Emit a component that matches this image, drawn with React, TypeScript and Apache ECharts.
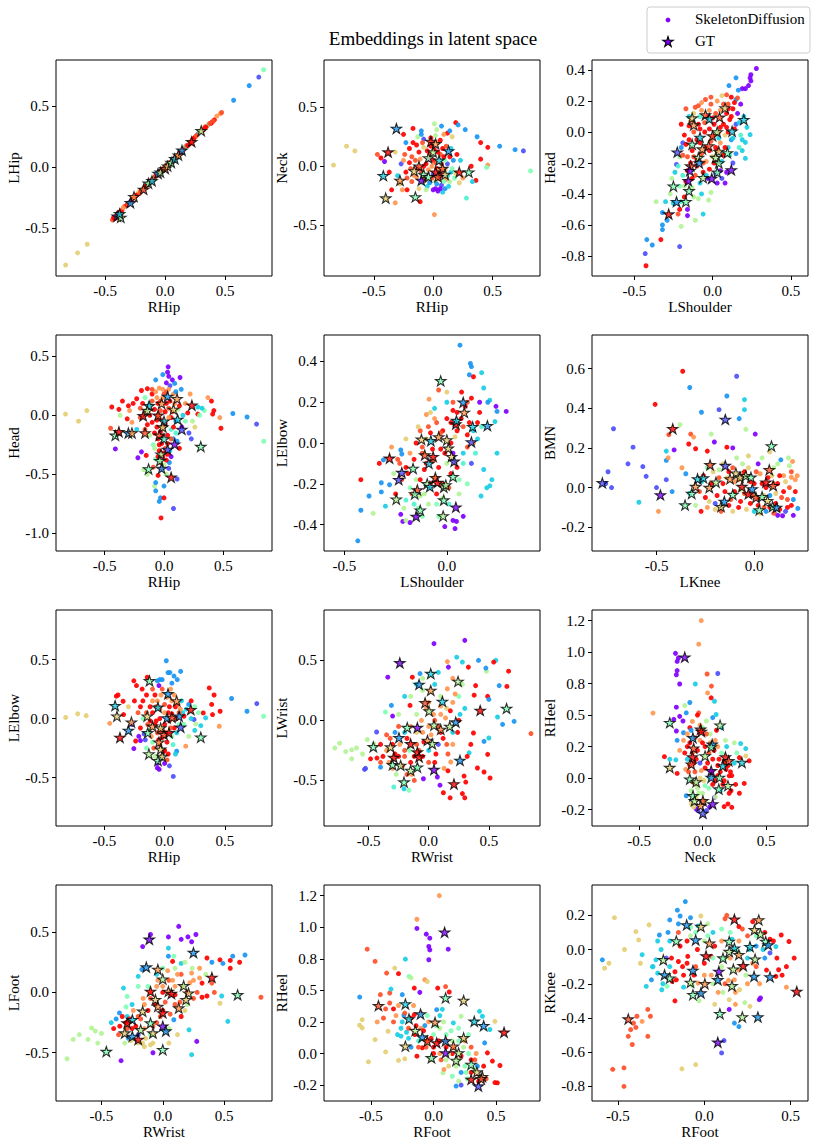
import React, { useEffect, useRef } from 'react';
import * as echarts from 'echarts';

type Pt = number[];

// [x, y, colourIndex 0..10 on the rainbow colormap]
const p1Dots: Pt[] = [[-0.83,-0.80,7],[-0.73,-0.70,7],[-0.65,-0.63,7],[-0.44,-0.43,9],[-0.42,-0.42,10],[-0.40,-0.39,9],[-0.38,-0.37,10],[-0.36,-0.35,10],[-0.34,-0.32,9],[-0.32,-0.31,10],[-0.30,-0.29,10],[-0.29,-0.28,2],[-0.27,-0.25,8],[-0.25,-0.24,10],[-0.23,-0.22,9],[-0.22,-0.20,7],[-0.20,-0.19,10],[-0.19,-0.18,3],[-0.17,-0.16,10],[-0.15,-0.15,8],[-0.14,-0.13,5],[-0.13,-0.12,9],[-0.11,-0.10,10],[-0.10,-0.09,5],[-0.09,-0.09,8],[-0.08,-0.07,10],[-0.06,-0.06,9],[-0.05,-0.04,1],[-0.04,-0.04,7],[-0.03,-0.03,10],[-0.02,-0.01,9],[-0.01,-0.02,3],[0.0,0.0,10],[0.01,0.01,3],[0.02,0.02,8],[0.03,0.03,9],[0.04,0.03,6],[0.05,0.04,10],[0.06,0.06,8],[0.07,0.07,2],[0.08,0.08,10],[0.10,0.10,2],[0.11,0.10,9],[0.12,0.12,9],[0.14,0.13,10],[0.16,0.16,8],[0.17,0.17,4],[0.18,0.18,9],[0.20,0.19,7],[0.21,0.20,10],[0.23,0.23,9],[0.25,0.25,8],[0.27,0.27,10],[0.28,0.28,3],[0.31,0.30,10],[0.33,0.33,9],[0.35,0.34,8],[0.36,0.35,5],[0.38,0.36,10],[0.39,0.37,10],[0.41,0.39,10],[0.40,0.38,9],[0.46,0.44,8],[0.47,0.45,9],[0.57,0.55,2],[0.70,0.67,2],[0.78,0.74,1],[0.82,0.80,5],[-0.43,-0.41,10],[-0.41,-0.40,9],[-0.39,-0.37,10],[-0.35,-0.33,8],[-0.31,-0.30,9],[-0.28,-0.27,10],[-0.24,-0.23,10],[-0.21,-0.21,9],[-0.18,-0.17,8],[-0.16,-0.15,10],[-0.12,-0.11,10],[-0.07,-0.07,9],[-0.04,-0.03,10],[0.0,0.01,8],[0.02,0.01,10],[0.04,0.04,9],[0.09,0.09,8],[0.13,0.12,10],[0.15,0.15,9],[0.19,0.18,10],[0.22,0.22,8],[0.24,0.24,10],[0.26,0.26,9],[0.29,0.29,8],[0.32,0.31,10],[0.34,0.33,10],[0.37,0.36,9],[0.43,0.42,8]];
const p1Stars: Pt[] = [[-0.40,-0.40,1],[-0.37,-0.41,6],[-0.38,-0.38,3],[-0.29,-0.29,2],[-0.26,-0.24,8],[-0.18,-0.18,9],[-0.14,-0.13,5],[-0.11,-0.11,3],[-0.06,-0.05,2],[-0.04,-0.04,6],[0.0,-0.01,9],[0.02,0.01,7],[0.05,0.04,5],[0.08,0.07,3],[0.11,0.10,8],[0.14,0.14,2],[0.22,0.21,10],[0.30,0.30,6]];

const p2Dots: Pt[] = [[-0.84,0.01,7],[-0.73,0.17,7],[-0.66,0.13,7],[-0.47,0.10,9],[-0.44,0.07,10],[-0.32,0.12,7],[-0.41,0.04,0],[-0.25,0.27,10],[-0.23,0.20,2],[-0.17,0.32,10],[-0.17,0.20,10],[-0.10,0.30,2],[-0.13,0.25,6],[-0.08,0.23,1],[0.01,0.36,6],[0.07,0.34,2],[0.19,0.37,10],[0.21,0.35,2],[0.27,0.31,2],[0.12,0.28,10],[0.16,0.25,7],[0.09,0.27,8],[0.37,0.25,2],[0.40,0.20,10],[0.46,0.16,10],[0.40,0.06,10],[0.56,0.17,2],[0.69,0.14,2],[0.76,0.13,1],[0.82,-0.04,5],[0.46,0.01,8],[0.45,-0.01,5],[0.32,0.0,10],[0.36,-0.12,10],[0.33,-0.13,3],[0.28,-0.27,4],[0.25,-0.10,8],[0.22,-0.14,7],[0.18,-0.10,5],[-0.35,-0.20,10],[-0.26,-0.20,8],[-0.22,-0.20,10],[-0.32,-0.31,8],[-0.11,-0.30,10],[0.01,-0.41,8],[-0.37,-0.05,10],[-0.30,-0.08,3],[-0.23,-0.05,10],[-0.20,0.03,10],[-0.27,0.02,1],[0.0,-0.20,0],[0.04,-0.21,0],[0.10,-0.19,2],[0.13,-0.17,3],[0.07,-0.16,1],[-0.05,-0.17,3],[-0.09,-0.14,5],[0.15,-0.05,3],[0.12,0.02,1],[0.17,0.05,2],[0.20,0.10,10],[-0.12,0.12,10],[-0.15,0.05,9],[-0.10,-0.04,9],[-0.06,0.02,10],[-0.03,0.10,9],[0.0,0.05,10],[0.03,-0.02,10],[0.06,0.10,9],[0.08,0.15,10],[-0.02,0.17,10],[0.04,0.20,8],[-0.07,-0.09,10],[0.05,-0.10,9],[-0.14,-0.09,8],[0.10,0.05,5],[-0.18,-0.13,9],[0.11,-0.11,8],[-0.04,0.06,0],[0.0,-0.07,1],[-0.19,-0.02,9],[-0.08,0.16,7],[0.02,0.26,6],[-0.01,0.0,8],[0.07,0.02,9],[0.14,-0.13,6],[-0.12,-0.19,7],[0.08,-0.22,3],[0.02,-0.13,6],[-0.24,0.10,9],[-0.20,0.15,10],[-0.18,0.08,9],[-0.16,-0.08,8],[-0.14,0.18,10],[-0.13,-0.02,10],[-0.11,0.06,8],[-0.09,0.20,9],[-0.08,0.0,10],[-0.07,-0.12,9],[-0.05,0.13,10],[-0.04,-0.03,8],[-0.02,0.24,10],[-0.01,-0.10,9],[0.01,0.14,10],[0.02,0.03,9],[0.03,-0.15,2],[0.04,0.12,10],[0.05,-0.03,8],[0.06,0.22,10],[0.07,-0.07,10],[0.09,0.08,10],[0.10,-0.03,7],[0.11,0.17,9],[0.12,-0.08,3],[0.14,0.08,10],[0.15,0.15,3],[0.16,-0.02,5],[-0.06,-0.20,6],[0.02,-0.19,0],[0.06,-0.19,0],[-0.03,-0.14,2],[0.09,-0.13,5],[-0.22,-0.10,9],[-0.25,0.05,8],[0.19,-0.06,7],[0.23,0.05,3],[-0.10,0.27,2],[0.03,0.31,6],[0.14,0.30,2],[-0.28,-0.15,7]];
const p2Stars: Pt[] = [[-0.31,0.32,2],[-0.38,0.12,10],[-0.42,-0.08,3],[-0.28,-0.12,8],[-0.40,-0.27,7],[-0.15,-0.26,5],[0.22,-0.05,10],[0.30,-0.05,5],[0.13,0.13,2],[-0.02,0.21,10],[0.02,0.19,8],[0.0,0.12,6],[-0.04,0.07,6],[-0.12,0.0,9],[-0.16,-0.04,7],[-0.08,-0.07,5],[-0.10,-0.12,0],[0.05,0.05,3],[0.02,-0.05,10],[0.08,-0.02,9],[0.10,-0.07,7],[-0.04,-0.09,5],[0.04,-0.09,9]];

const p3Dots: Pt[] = [[0.28,0.41,0],[0.245,0.37,0],[0.245,0.33,0],[0.23,0.30,0],[0.21,0.28,0],[0.19,0.28,0],[0.18,0.18,0],[0.24,0.35,0],[0.15,0.35,2],[0.105,0.30,2],[0.165,0.27,2],[0.12,0.225,10],[0.15,0.21,2],[-0.09,0.17,9],[-0.01,0.225,9],[-0.045,0.21,9],[0.06,0.235,7],[0.09,0.24,9],[-0.07,0.19,8],[0.03,0.20,8],[0.24,-0.017,3],[0.21,-0.067,3],[0.21,-0.17,3],[0.15,-0.14,2],[0.19,-0.05,3],[0.22,0.03,3],[0.17,-0.10,4],[-0.19,-0.07,1],[-0.23,-0.21,1],[-0.20,-0.10,2],[-0.24,-0.26,3],[-0.21,-0.16,6],[-0.36,-0.45,6],[-0.30,-0.45,3],[-0.32,-0.52,2],[-0.29,-0.57,2],[-0.32,-0.60,2],[-0.32,-0.63,2],[-0.20,-0.61,6],[-0.21,-0.74,1],[-0.33,-0.695,10],[-0.42,-0.695,2],[-0.385,-0.73,2],[-0.43,-0.785,1],[-0.425,-0.864,10],[-0.11,-0.57,6],[-0.06,-0.53,3],[-0.025,-0.44,6],[-0.01,-0.39,6],[-0.09,-0.43,6],[-0.16,-0.50,0],[-0.21,-0.50,10],[-0.16,-0.54,0],[-0.22,-0.53,9],[-0.27,-0.40,6],[-0.25,-0.46,3],[-0.18,-0.02,10],[-0.15,0.04,10],[-0.12,0.0,9],[-0.10,-0.05,10],[-0.08,0.02,10],[-0.05,0.06,9],[-0.02,0.02,10],[0.01,0.05,10],[0.04,0.0,9],[0.07,0.05,10],[0.09,0.12,10],[0.11,0.08,10],[0.13,0.15,10],[0.14,0.19,10],[0.10,0.18,9],[0.05,0.14,8],[-0.02,0.14,8],[-0.12,0.12,7],[-0.15,0.10,3],[-0.17,-0.08,10],[-0.13,-0.12,10],[-0.10,-0.18,10],[-0.07,-0.14,9],[-0.04,-0.10,10],[-0.01,-0.06,9],[0.02,-0.10,10],[0.05,-0.07,8],[0.08,-0.02,7],[0.10,-0.10,3],[0.12,-0.05,2],[0.07,-0.15,10],[0.03,-0.20,9],[-0.02,-0.24,10],[-0.06,-0.26,10],[-0.11,-0.28,9],[-0.14,-0.20,10],[-0.17,-0.32,10],[-0.13,-0.36,6],[-0.08,-0.33,3],[-0.03,-0.30,0],[0.02,-0.27,1],[0.05,-0.25,0],[0.09,-0.26,0],[0.06,-0.30,1],[-0.19,-0.28,4],[-0.21,-0.35,5],[-0.18,-0.42,10],[0.0,-0.16,7],[0.04,-0.04,3],[-0.08,0.10,4],[0.13,-0.20,1],[0.10,0.0,10],[-0.04,-0.19,8],[-0.16,-0.16,9],[0.0,0.09,10],[0.15,0.05,1],[0.16,0.12,0],[-0.20,0.05,10],[-0.19,-0.15,9],[-0.17,0.15,9],[-0.16,-0.25,10],[-0.15,-0.05,10],[-0.14,0.07,8],[-0.13,-0.30,10],[-0.12,-0.16,9],[-0.11,0.16,9],[-0.10,-0.22,10],[-0.09,0.05,10],[-0.08,-0.07,10],[-0.07,0.14,8],[-0.06,-0.20,9],[-0.05,0.0,10],[-0.04,-0.28,3],[-0.03,0.10,10],[-0.02,-0.12,10],[-0.01,0.18,9],[0.0,-0.03,10],[0.01,-0.20,10],[0.02,0.12,9],[0.03,-0.12,10],[0.05,0.03,10],[0.06,-0.19,3],[0.07,0.18,9],[0.08,-0.10,10],[0.09,0.03,10],[0.10,0.15,10],[0.11,-0.15,4],[0.12,0.10,10],[0.13,-0.04,3],[0.14,0.02,10],[0.17,0.06,3],[0.18,-0.02,4],[0.20,0.10,3],[0.19,-0.12,3],[-0.22,-0.22,4],[-0.18,-0.35,6],[-0.20,-0.45,4],[-0.12,-0.42,6],[-0.07,-0.40,3],[0.03,-0.33,0],[0.08,-0.33,0],[-0.26,-0.30,6],[0.16,0.22,9]];
const p3Stars: Pt[] = [[-0.13,0.09,7],[-0.12,0.045,8],[-0.045,0.11,9],[-0.02,0.085,3],[0.045,0.095,9],[0.08,0.155,7],[0.20,0.08,3],[0.125,0.005,3],[0.03,0.0,6],[-0.08,-0.035,3],[0.0,-0.025,9],[-0.13,-0.08,5],[-0.065,-0.11,8],[-0.025,-0.09,9],[0.04,-0.125,7],[0.095,-0.135,5],[-0.09,-0.165,6],[0.02,-0.165,6],[-0.085,-0.20,2],[0.04,-0.20,5],[-0.14,-0.22,9],[-0.145,-0.25,0],[0.03,-0.26,5],[-0.06,-0.295,6],[-0.005,-0.30,0],[-0.155,-0.315,0],[0.12,-0.245,0],[-0.225,-0.13,1],[-0.25,-0.35,5],[-0.15,-0.38,5],[-0.23,-0.45,2],[-0.17,-0.45,5],[-0.28,-0.53,10]];

const p4Dots: Pt[] = [[-0.83,0.01,7],[-0.72,-0.05,7],[-0.65,0.04,7],[0.035,0.41,0],[0.03,0.365,0],[0.04,0.33,0],[0.02,0.275,0],[0.135,0.32,0],[-0.01,0.345,2],[-0.07,0.30,2],[0.09,0.27,2],[0.145,0.22,2],[-0.04,0.23,8],[0.22,0.18,8],[0.05,0.25,1],[-0.44,0.07,10],[-0.38,0.05,10],[-0.35,0.12,10],[-0.19,0.21,10],[-0.14,0.225,10],[-0.23,0.14,10],[-0.29,0.04,8],[-0.31,-0.03,10],[-0.45,-0.11,9],[-0.41,-0.285,0],[-0.37,0.0,6],[-0.26,0.10,10],[-0.20,0.06,9],[-0.27,-0.06,8],[-0.23,-0.12,3],[0.37,0.15,8],[0.40,0.12,10],[0.42,0.04,10],[0.41,0.01,10],[0.34,0.04,5],[0.32,0.06,3],[0.47,-0.02,8],[0.48,-0.11,10],[0.285,0.01,10],[0.58,0.015,2],[0.70,-0.015,2],[0.78,-0.075,1],[0.84,-0.22,5],[0.26,-0.10,7],[0.20,0.02,10],[0.285,0.07,3],[0.18,0.10,8],[0.24,-0.05,6],[-0.19,-0.31,0],[-0.15,-0.34,10],[-0.14,-0.50,6],[-0.08,-0.60,6],[-0.07,-0.64,2],[-0.03,-0.70,2],[-0.04,-0.73,2],[0.0,-0.70,10],[0.08,-0.79,1],[-0.025,-0.87,10],[-0.07,-0.57,2],[0.0,-0.60,2],[-0.05,-0.51,10],[0.11,-0.54,1],[0.045,-0.40,2],[-0.17,-0.46,6],[-0.22,-0.36,0],[0.23,-0.20,1],[0.21,-0.15,1],[-0.09,-0.44,9],[0.02,-0.50,6],[-0.06,0.15,8],[-0.03,0.12,9],[0.0,0.18,9],[0.02,0.10,10],[-0.08,0.05,10],[-0.05,0.0,10],[-0.02,-0.04,9],[0.01,0.03,10],[0.04,0.06,9],[0.06,-0.02,10],[-0.10,-0.06,10],[-0.06,-0.10,10],[-0.03,-0.14,10],[0.0,-0.10,9],[0.03,-0.17,10],[-0.05,-0.20,10],[-0.02,-0.24,10],[0.01,-0.28,9],[-0.04,-0.30,10],[-0.01,-0.35,10],[0.02,-0.38,10],[-0.03,-0.40,9],[0.05,-0.30,3],[0.08,-0.20,2],[0.06,-0.12,4],[-0.12,-0.17,6],[-0.09,-0.25,5],[0.10,-0.05,2],[0.12,0.05,6],[-0.12,0.10,4],[-0.15,0.03,8],[0.08,0.18,8],[-0.10,0.18,10],[0.06,-0.35,0],[-0.07,-0.37,5],[0.04,-0.45,1],[0.13,-0.28,10],[-0.16,-0.12,9],[0.15,-0.10,0],[-0.01,0.22,8],[-0.12,0.0,10],[-0.10,0.12,9],[-0.08,-0.15,10],[-0.07,0.20,8],[-0.06,-0.04,10],[-0.05,0.10,10],[-0.04,-0.25,10],[-0.03,0.04,9],[-0.02,-0.18,10],[-0.01,0.15,8],[0.0,-0.32,10],[0.01,-0.07,10],[0.02,0.20,9],[0.03,-0.24,10],[0.04,-0.02,8],[0.05,0.12,10],[0.06,-0.20,9],[0.07,0.03,9],[0.08,-0.10,10],[0.09,0.10,8],[0.10,-0.15,4],[-0.14,-0.08,10],[-0.18,0.10,10],[-0.20,-0.02,9],[0.13,0.08,10],[0.16,0.0,3],[-0.02,-0.45,10],[0.0,-0.42,6],[-0.05,-0.35,10],[0.03,-0.33,10],[-0.08,-0.28,6],[0.11,-0.22,2],[-0.10,0.22,9],[0.04,0.22,8],[0.18,-0.05,5],[-0.16,0.15,5],[0.07,0.30,0],[0.10,0.20,2],[-0.30,0.08,10],[0.30,0.0,5]];
const p4Stars: Pt[] = [[-0.41,-0.17,5],[-0.38,-0.14,10],[-0.30,-0.15,2],[-0.27,-0.15,8],[-0.16,-0.15,9],[-0.175,-0.005,10],[-0.125,0.08,3],[-0.14,0.04,6],[-0.02,0.10,8],[0.03,0.16,2],[0.11,0.14,8],[0.08,0.05,7],[0.115,-0.035,3],[0.15,-0.12,1],[0.235,0.085,10],[0.31,-0.265,5],[0.09,-0.245,0],[0.03,-0.29,1],[-0.025,-0.33,6],[-0.035,-0.385,5],[-0.13,-0.455,5],[-0.02,-0.45,2],[0.06,-0.525,10],[-0.05,0.0,9],[0.0,-0.05,3],[-0.01,-0.10,7],[-0.04,-0.17,9],[0.0,-0.20,4]];

const p5Dots: Pt[] = [[0.064,0.48,2],[0.115,0.39,2],[0.12,0.375,2],[0.11,0.335,2],[0.17,0.345,3],[0.13,0.325,10],[0.18,0.27,3],[0.21,0.21,3],[0.20,0.20,2],[0.24,0.18,0],[0.29,0.155,0],[0.245,0.155,2],[0.16,0.20,0],[0.235,0.105,3],[0.245,-0.05,3],[0.22,-0.18,3],[0.195,-0.22,3],[0.167,-0.26,3],[0.21,-0.21,3],[0.18,-0.13,3],[-0.04,0.26,9],[-0.087,0.215,8],[0.072,0.25,10],[-0.06,0.17,3],[-0.10,0.14,8],[0.0,0.20,3],[0.03,0.16,10],[-0.42,-0.18,10],[-0.42,-0.33,2],[-0.435,-0.48,2],[-0.38,-0.26,2],[-0.36,-0.345,6],[-0.32,-0.195,2],[-0.32,-0.24,2],[-0.33,-0.10,10],[-0.31,-0.083,2],[-0.28,-0.205,2],[-0.30,-0.31,3],[-0.225,-0.034,2],[-0.22,-0.054,2],[-0.225,-0.35,0],[-0.215,-0.385,0],[-0.18,-0.39,0],[-0.01,-0.41,0],[0.04,-0.42,0],[0.047,-0.385,0],[0.08,-0.36,0],[0.03,-0.38,0],[-0.15,0.0,10],[-0.12,-0.05,9],[-0.08,0.05,10],[-0.05,0.10,9],[-0.02,0.06,10],[0.02,0.10,10],[0.05,0.15,10],[0.08,0.08,9],[0.10,0.04,10],[0.13,0.0,8],[0.04,0.03,7],[-0.03,-0.03,10],[-0.07,-0.09,9],[-0.11,-0.13,10],[-0.15,-0.18,6],[-0.18,-0.22,5],[-0.13,-0.26,6],[-0.09,-0.30,6],[-0.05,-0.25,10],[-0.02,-0.20,9],[0.02,-0.15,10],[0.05,-0.12,10],[0.08,-0.05,3],[-0.20,-0.12,10],[-0.24,-0.08,9],[-0.26,-0.15,6],[-0.18,-0.05,8],[-0.10,0.02,7],[0.0,-0.10,6],[-0.04,-0.36,5],[0.01,-0.30,4],[0.06,-0.25,6],[0.10,-0.20,5],[0.12,-0.10,1],[-0.16,-0.30,4],[-0.20,-0.28,4],[0.15,0.10,10],[0.10,0.20,9],[-0.13,0.06,9],[-0.06,-0.17,8],[0.03,-0.05,0],[0.14,-0.05,4],[-0.22,-0.18,9],[-0.25,-0.25,10],[-0.23,-0.10,9],[-0.21,-0.32,6],[-0.19,-0.15,10],[-0.17,-0.25,9],[-0.16,-0.08,10],[-0.14,-0.32,5],[-0.13,-0.18,10],[-0.12,-0.02,9],[-0.11,-0.25,6],[-0.10,-0.10,10],[-0.09,0.08,9],[-0.08,-0.20,10],[-0.07,-0.03,10],[-0.06,0.12,8],[-0.05,-0.30,5],[-0.04,-0.12,10],[-0.03,0.05,9],[-0.02,-0.27,6],[-0.01,-0.05,10],[0.0,0.12,10],[0.01,-0.22,9],[0.02,0.0,10],[0.03,0.20,9],[0.04,-0.10,8],[0.05,0.06,10],[0.06,-0.18,5],[0.07,0.12,10],[0.08,-0.10,4],[0.09,0.18,10],[0.10,-0.02,9],[0.11,0.10,10],[0.12,0.22,10],[0.13,0.06,3],[0.15,0.02,3],[0.16,0.15,10],[0.17,0.08,4],[-0.27,-0.02,8],[-0.20,0.02,7],[-0.14,0.08,7],[-0.08,0.15,7],[0.0,0.25,7],[-0.12,-0.36,5],[-0.20,-0.38,6]];
const p5Stars: Pt[] = [[-0.03,0.305,5],[0.08,0.20,2],[0.085,0.15,8],[0.044,0.093,10],[0.047,0.11,3],[0.126,0.08,3],[0.198,0.085,2],[0.12,0.005,1],[-0.124,0.018,7],[-0.078,0.011,3],[-0.04,0.03,8],[0.0,0.015,7],[0.007,-0.026,7],[0.023,-0.067,7],[0.036,-0.09,1],[-0.28,-0.075,10],[-0.22,-0.145,1],[-0.235,-0.18,1],[-0.165,-0.125,5],[-0.088,-0.10,3],[-0.108,-0.059,9],[-0.067,-0.067,10],[-0.056,-0.17,9],[-0.096,-0.20,6],[-0.144,-0.23,9],[-0.157,-0.25,5],[-0.13,-0.33,5],[-0.15,-0.36,0],[-0.247,-0.276,6],[-0.015,-0.217,6],[-0.015,-0.28,5],[-0.018,-0.358,6],[0.044,-0.315,0],[0.03,-0.165,5],[-0.005,-0.206,6],[-0.046,-0.194,10],[-0.083,-0.214,3]];

const p6Dots: Pt[] = [[-0.72,0.297,1],[-0.62,0.204,1],[-0.646,0.12,1],[-0.57,0.106,1],[-0.553,0.057,1],[-0.59,-0.074,3],[-0.748,0.08,1],[-0.73,0.0,1],[-0.76,0.02,1],[-0.507,0.42,10],[-0.366,0.587,10],[-0.33,0.505,2],[-0.27,0.38,2],[-0.437,0.267,9],[-0.38,0.317,6],[-0.45,0.137,2],[-0.45,0.184,3],[-0.41,0.19,0],[-0.335,0.22,10],[-0.30,0.196,10],[-0.325,0.27,9],[-0.31,0.255,8],[-0.24,0.184,10],[-0.204,0.23,0],[-0.14,0.462,2],[-0.18,0.393,1],[-0.09,0.562,1],[-0.05,0.444,3],[-0.05,0.393,3],[-0.077,0.348,2],[-0.043,0.294,6],[0.005,0.27,0],[-0.22,0.27,6],[-0.14,0.204,10],[-0.11,0.20,0],[-0.44,0.15,8],[0.145,-0.142,0],[0.20,-0.14,0],[0.223,-0.105,2],[0.19,0.052,8],[0.175,0.15,6],[0.136,0.14,2],[0.196,0.132,8],[-0.272,-0.12,10],[-0.49,-0.12,8],[-0.45,0.04,1],[-0.42,-0.02,2],[-0.50,0.0,1],[-0.35,0.07,2],[-0.30,-0.09,6],[-0.33,-0.03,3],[-0.37,0.10,8],[-0.25,-0.05,10],[-0.22,0.02,10],[-0.20,-0.08,1],[-0.18,0.05,9],[-0.15,-0.02,10],[-0.13,0.08,10],[-0.12,-0.06,9],[-0.10,0.03,8],[-0.08,-0.10,10],[-0.06,0.06,10],[-0.05,-0.03,9],[-0.03,0.10,7],[-0.02,-0.08,10],[0.0,0.02,10],[0.02,-0.05,10],[0.03,0.07,8],[0.05,-0.10,9],[0.06,0.0,10],[0.08,-0.04,2],[0.09,0.06,7],[0.11,-0.08,10],[0.12,0.02,10],[0.14,-0.05,9],[0.15,0.06,8],[0.17,-0.10,10],[0.18,0.0,9],[0.20,-0.06,2],[0.21,0.04,8],[-0.16,0.12,7],[-0.09,0.15,6],[-0.03,0.16,7],[0.04,0.15,6],[0.08,0.18,7],[0.12,0.12,6],[-0.20,-0.11,7],[-0.11,-0.12,7],[0.0,-0.12,3],[0.10,-0.13,9],[0.16,-0.12,1],[-0.27,0.03,3],[-0.24,0.10,5],[0.02,0.12,0],[-0.07,-0.01,6],[-0.28,-0.02,9],[-0.26,0.06,10],[-0.24,-0.10,8],[-0.21,0.08,7],[-0.19,-0.04,10],[-0.17,-0.12,9],[-0.16,0.02,10],[-0.14,0.05,7],[-0.13,-0.09,10],[-0.11,0.10,9],[-0.10,-0.02,10],[-0.08,0.04,8],[-0.07,-0.07,10],[-0.05,0.08,10],[-0.04,-0.11,7],[-0.02,0.03,10],[-0.01,-0.04,9],[0.01,0.08,9],[0.02,-0.09,10],[0.04,0.02,10],[0.05,-0.04,7],[0.07,0.05,10],[0.08,-0.10,10],[0.10,0.02,9],[0.11,-0.03,7],[0.13,0.06,10],[0.13,-0.11,10],[0.15,-0.02,10],[0.16,0.03,7],[0.17,-0.06,9],[0.19,0.08,9],[0.19,-0.09,10],[0.21,-0.02,10],[0.22,0.06,8],[0.18,0.11,6],[0.10,0.10,6],[-0.06,0.12,6],[-0.18,0.09,6],[-0.23,-0.07,7],[0.03,-0.13,7],[0.12,-0.14,0],[0.06,-0.12,2]];
const p6Stars: Pt[] = [[-0.777,0.024,1],[-0.417,0.297,10],[-0.226,0.115,9],[-0.148,0.111,1],[-0.148,0.344,1],[0.088,0.21,5],[0.077,0.09,9],[-0.48,-0.037,0],[-0.354,-0.088,5],[-0.32,-0.03,5],[-0.29,0.044,3],[-0.26,0.049,3],[-0.30,0.005,8],[-0.23,0.0,8],[-0.196,0.027,6],[-0.17,-0.096,7],[-0.153,-0.07,2],[-0.11,-0.035,5],[-0.094,0.073,7],[-0.073,0.052,7],[-0.043,0.06,6],[-0.017,0.052,5],[-0.063,0.005,10],[-0.01,-0.007,2],[-0.03,-0.032,10],[0.009,-0.05,9],[0.04,-0.046,5],[0.026,-0.113,5],[0.068,-0.066,7],[0.094,-0.096,5],[0.114,-0.10,2],[0.06,0.027,10],[0.097,0.01,9],[-0.124,0.044,8]];

const p7Dots: Pt[] = [[-0.82,0.01,7],[-0.72,0.04,7],[-0.65,0.025,7],[-0.455,-0.04,8],[0.014,0.49,2],[0.028,0.39,2],[0.044,0.39,2],[0.078,0.36,2],[0.105,0.33,2],[0.133,0.40,2],[-0.02,0.33,2],[-0.06,0.32,2],[-0.047,0.28,0],[-0.144,0.35,10],[-0.255,0.32,10],[-0.233,0.28,10],[-0.186,0.25,10],[-0.386,0.20,10],[-0.40,0.19,10],[-0.344,0.147,10],[-0.34,0.034,10],[-0.214,-0.15,0],[-0.20,-0.186,0],[-0.24,-0.19,10],[-0.17,-0.13,1],[0.37,0.26,10],[0.41,0.20,10],[0.39,0.12,10],[0.397,0.034,10],[0.46,0.062,10],[0.453,-0.065,8],[0.32,0.048,10],[0.34,0.006,3],[0.244,-0.008,1],[0.258,-0.045,6],[0.20,0.12,2],[0.555,0.17,2],[0.683,0.062,2],[0.764,0.127,1],[0.82,0.02,5],[0.175,-0.234,8],[0.10,-0.277,2],[0.072,-0.49,1],[-0.06,-0.418,0],[-0.045,-0.43,0],[-0.005,-0.277,1],[-0.255,-0.254,0],[0.28,0.05,5],[0.30,-0.06,3],[0.22,0.0,3],[0.25,0.10,5],[0.15,0.05,3],[-0.20,0.10,10],[-0.15,0.05,9],[-0.10,0.15,8],[-0.07,0.10,9],[-0.03,0.20,8],[0.0,0.12,9],[0.03,0.05,10],[0.06,0.15,8],[0.09,0.10,10],[0.12,0.05,9],[-0.12,-0.02,10],[-0.08,-0.05,10],[-0.04,0.0,10],[0.0,-0.05,10],[0.04,-0.02,9],[0.08,-0.08,10],[-0.06,-0.12,9],[-0.02,-0.16,10],[0.02,-0.20,10],[-0.04,-0.22,9],[0.0,-0.27,10],[-0.02,-0.32,10],[0.02,-0.35,9],[-0.10,-0.20,5],[0.06,-0.15,5],[-0.13,-0.10,6],[0.10,-0.12,3],[-0.18,0.0,5],[0.16,-0.05,5],[-0.22,0.05,9],[0.14,0.15,3],[-0.10,0.25,9],[0.05,0.25,8],[-0.27,-0.05,1],[-0.30,0.10,7],[0.20,-0.15,6],[-0.06,-0.38,0],[0.04,-0.40,1],[-0.15,-0.25,5],[-0.15,0.20,10],[-0.14,-0.05,9],[-0.12,0.10,10],[-0.11,-0.15,8],[-0.10,0.05,10],[-0.09,-0.25,9],[-0.08,0.20,10],[-0.07,-0.02,10],[-0.06,0.15,8],[-0.05,-0.18,10],[-0.04,0.08,9],[-0.03,-0.10,10],[-0.02,0.25,9],[-0.01,-0.28,10],[0.0,0.05,8],[0.01,-0.12,10],[0.02,0.18,8],[0.03,-0.30,10],[0.04,0.10,10],[0.05,-0.08,9],[0.06,0.04,10],[0.07,-0.22,4],[0.08,0.20,8],[0.10,0.0,10],[0.11,0.12,9],[0.12,-0.05,5],[0.13,0.08,8],[0.16,0.02,10],[0.18,0.08,3],[-0.18,0.15,10],[-0.20,-0.08,10],[-0.16,-0.18,1],[0.09,-0.30,3],[-0.08,-0.32,6],[0.0,-0.38,0],[0.06,0.30,2],[-0.04,0.33,2],[0.22,0.15,10],[-0.25,0.15,10],[0.25,-0.10,3]];
const p7Stars: Pt[] = [[-0.41,0.11,3],[-0.395,0.02,7],[-0.30,-0.10,2],[-0.275,-0.03,8],[-0.37,-0.16,10],[-0.125,0.32,5],[-0.055,0.096,3],[-0.144,0.02,7],[0.028,0.21,2],[0.10,0.15,8],[0.217,0.076,10],[0.30,-0.158,5],[0.12,0.02,2],[0.133,-0.073,1],[0.02,0.005,2],[0.06,0.01,9],[-0.10,-0.065,8],[-0.033,-0.08,7],[-0.005,-0.135,9],[-0.047,-0.20,8],[-0.033,-0.26,7],[-0.13,-0.30,6],[-0.055,-0.356,5],[-0.02,-0.32,6],[-0.14,-0.12,5],[0.036,-0.12,10]];

const p8Dots: Pt[] = [[-0.78,-0.23,6],[-0.74,-0.19,6],[-0.69,-0.26,6],[-0.64,-0.245,6],[-0.64,-0.32,6],[-0.60,-0.23,6],[-0.55,-0.28,6],[-0.51,-0.16,6],[-0.525,-0.40,1],[-0.455,-0.195,6],[0.044,0.64,0],[0.30,0.667,0],[-0.34,0.36,0],[0.233,0.527,3],[0.28,0.486,3],[0.414,0.50,2],[0.558,0.50,3],[0.155,0.49,8],[0.164,0.444,0],[0.33,0.444,10],[0.48,0.41,6],[0.475,0.436,2],[0.54,0.486,10],[0.664,0.41,10],[0.65,0.283,10],[0.586,0.29,2],[0.39,0.29,10],[0.378,0.21,10],[0.49,0.20,10],[0.50,0.175,2],[0.572,0.028,3],[0.614,-0.033,2],[0.71,-0.008,2],[0.85,-0.11,9],[0.372,-0.105,10],[0.46,-0.175,2],[0.50,-0.147,3],[0.49,-0.283,10],[0.336,-0.27,3],[0.405,-0.397,10],[0.46,-0.43,10],[0.51,-0.48,10],[0.294,-0.464,10],[0.308,-0.514,10],[0.28,-0.61,10],[0.30,-0.645,10],[0.178,-0.645,10],[0.122,-0.603,10],[0.094,-0.54,0],[0.072,-0.472,0],[-0.044,-0.486,0],[0.128,-0.40,8],[0.183,-0.347,8],[-0.205,-0.57,3],[-0.164,-0.583,5],[-0.29,-0.555,4],[-0.533,-0.408,1],[-0.40,-0.39,2],[-0.483,-0.32,10],[-0.43,-0.314,10],[-0.433,-0.097,1],[-0.31,0.125,2],[-0.30,0.036,0],[-0.36,0.07,5],[-0.155,0.125,10],[-0.072,0.39,2],[-0.136,0.36,10],[0.155,0.264,8],[-0.30,-0.20,10],[-0.25,-0.30,10],[-0.20,-0.25,9],[-0.15,-0.35,10],[-0.10,-0.20,9],[-0.05,-0.10,8],[0.0,-0.05,8],[0.05,0.0,9],[0.10,0.05,8],[0.15,0.10,7],[0.20,0.15,8],[0.25,0.0,10],[0.10,-0.10,10],[-0.05,-0.30,10],[0.0,-0.25,3],[-0.20,-0.10,3],[-0.25,-0.05,9],[-0.35,-0.25,8],[-0.30,-0.40,8],[-0.18,-0.45,9],[-0.10,-0.40,5],[0.05,-0.35,10],[0.15,-0.20,9],[0.20,-0.10,3],[0.30,0.10,3],[0.10,0.20,6],[0.0,0.15,8],[-0.10,0.05,6],[-0.15,-0.05,8],[0.05,0.30,3],[-0.05,0.25,6],[-0.20,0.20,3],[-0.10,0.30,3],[0.20,0.35,8],[0.25,0.20,5],[-0.35,-0.12,9],[0.35,-0.20,10],[-0.40,-0.20,10],[0.08,-0.20,1],[-0.12,-0.50,9],[-0.38,-0.30,10],[-0.33,-0.35,8],[-0.32,-0.15,9],[-0.28,-0.28,10],[-0.27,-0.45,6],[-0.24,-0.20,8],[-0.22,-0.38,10],[-0.20,-0.30,9],[-0.18,-0.15,10],[-0.16,-0.25,5],[-0.14,-0.45,8],[-0.12,-0.30,10],[-0.10,-0.10,7],[-0.08,-0.25,9],[-0.06,0.0,8],[-0.04,-0.18,10],[-0.02,0.10,8],[0.0,-0.35,9],[0.02,-0.12,8],[0.04,0.05,8],[0.06,-0.28,10],[0.08,-0.05,9],[0.10,0.12,8],[0.12,-0.15,10],[0.14,0.02,8],[0.16,-0.28,9],[0.18,0.08,10],[0.20,-0.20,8],[0.22,0.22,8],[0.24,-0.10,10],[0.26,0.05,3],[0.28,0.30,6],[-0.15,0.20,6],[-0.05,0.35,6],[0.08,0.40,3],[-0.25,0.05,6],[-0.28,-0.10,2],[0.32,-0.30,10],[0.16,-0.42,10],[-0.40,-0.35,9]];
const p8Stars: Pt[] = [[-0.46,-0.22,5],[-0.24,0.48,0],[0.017,0.39,3],[-0.08,0.30,2],[0.017,0.25,8],[0.244,0.325,6],[0.114,0.158,3],[-0.03,0.147,9],[0.003,0.078,6],[0.428,0.083,10],[0.647,0.10,5],[0.225,-0.014,2],[0.175,-0.05,6],[0.10,-0.075,8],[0.044,-0.04,6],[-0.178,-0.06,5],[-0.094,-0.06,0],[-0.15,-0.195,10],[-0.094,-0.264,10],[-0.247,-0.144,2],[-0.317,-0.222,7],[-0.29,-0.31,10],[-0.30,-0.37,5],[-0.233,-0.375,6],[-0.205,-0.514,5],[-0.15,-0.417,6],[-0.094,-0.39,5],[0.044,-0.41,0],[0.21,-0.53,10],[0.26,-0.333,2],[-0.01,-0.167,8],[0.03,-0.195,6],[-0.08,-0.305,10]];

const p9Dots: Pt[] = [[-0.01,1.25,8],[-0.03,1.063,8],[-0.213,0.99,0],[-0.19,0.953,0],[-0.20,0.926,0],[-0.20,0.853,0],[-0.206,0.82,0],[-0.18,0.747,0],[0.12,0.83,1],[0.036,0.826,9],[-0.057,0.747,3],[0.07,0.73,9],[0.04,0.676,8],[0.068,0.637,10],[0.094,0.61,3],[-0.10,0.60,2],[-0.14,0.576,6],[-0.39,0.516,8],[-0.206,0.563,0],[-0.18,0.49,0],[-0.128,0.518,2],[-0.226,0.466,0],[-0.154,0.453,0],[0.08,0.48,2],[0.107,0.505,3],[-0.03,0.518,9],[-0.04,0.50,10],[0.03,0.453,6],[-0.206,0.374,0],[-0.15,0.36,2],[0.30,0.274,3],[0.34,0.234,3],[0.25,0.28,6],[0.34,0.176,7],[0.367,0.137,10],[0.29,0.163,10],[0.328,-0.042,10],[0.29,-0.12,10],[0.224,-0.10,10],[0.17,-0.226,10],[0.20,-0.205,10],[0.23,-0.232,10],[0.21,0.018,10],[0.185,0.07,10],[0.17,-0.021,10],[0.22,0.05,10],[0.20,0.10,10],[0.25,0.12,3],[-0.30,0.17,10],[-0.258,0.15,3],[-0.21,0.145,3],[-0.20,0.037,10],[-0.133,0.07,8],[-0.128,-0.14,2],[-0.036,-0.258,1],[-0.05,-0.245,0],[0.03,-0.258,1],[0.055,-0.23,0],[0.094,-0.153,0],[-0.088,-0.205,7],[-0.07,-0.23,7],[-0.12,0.25,10],[-0.08,0.20,9],[-0.05,0.15,10],[-0.02,0.30,8],[0.02,0.25,10],[0.05,0.20,9],[0.08,0.15,10],[0.10,0.30,8],[0.12,0.10,10],[-0.10,0.10,10],[-0.06,0.05,9],[-0.02,0.0,7],[0.02,0.08,10],[0.05,0.0,6],[0.08,-0.05,10],[0.12,0.02,10],[0.14,-0.10,3],[-0.04,-0.08,6],[0.0,-0.12,6],[-0.08,-0.03,8],[-0.12,0.15,3],[0.15,0.20,5],[-0.15,0.30,8],[0.0,0.40,5],[0.06,0.35,6],[-0.10,0.40,10],[0.15,0.40,3],[0.02,-0.06,5],[-0.02,0.12,1],[0.10,-0.15,6],[-0.05,-0.16,7],[-0.14,0.20,10],[-0.12,0.35,8],[-0.11,0.05,9],[-0.10,0.28,10],[-0.09,-0.10,6],[-0.08,0.45,8],[-0.07,0.12,10],[-0.06,0.32,9],[-0.04,0.22,10],[-0.03,-0.12,6],[-0.02,0.42,8],[-0.01,0.06,8],[0.0,0.28,10],[0.01,-0.02,7],[0.03,0.35,9],[0.04,0.12,10],[0.05,-0.08,5],[0.06,0.28,8],[0.07,0.05,10],[0.09,0.22,10],[0.10,-0.02,10],[0.11,0.38,10],[0.13,0.15,10],[0.14,0.05,10],[0.16,-0.05,10],[0.17,0.12,10],[0.19,0.25,3],[0.21,-0.12,10],[0.23,0.02,10],[0.26,-0.05,10],[0.12,0.25,8],[-0.05,-0.05,7],[0.02,-0.18,6],[-0.09,0.38,2],[0.18,0.30,6],[-0.18,0.22,8],[-0.20,0.30,2],[0.27,0.20,5]];
const p9Stars: Pt[] = [[-0.14,0.96,0],[-0.258,0.44,5],[0.138,0.42,6],[-0.016,0.387,9],[-0.01,0.37,10],[-0.076,0.32,2],[0.076,0.268,2],[0.068,0.247,5],[-0.07,0.237,9],[-0.08,0.168,10],[0.18,0.168,10],[0.02,0.176,6],[-0.088,0.11,9],[0.206,0.137,9],[0.16,0.097,3],[0.31,0.124,3],[-0.258,0.084,7],[-0.10,-0.008,5],[-0.05,-0.03,6],[0.068,0.058,0],[0.068,0.005,2],[0.133,0.005,5],[0.128,-0.087,5],[0.20,-0.06,6],[-0.075,-0.14,5],[-0.063,-0.18,6],[0.003,-0.18,9],[0.08,-0.205,0],[0.003,-0.28,1],[-0.016,-0.218,8]];

const p10Dots: Pt[] = [[-0.78,-0.55,6],[-0.73,-0.39,6],[-0.68,-0.35,6],[-0.61,-0.39,6],[-0.55,-0.32,6],[-0.50,-0.34,6],[-0.53,-0.42,6],[-0.58,-0.295,6],[-0.34,-0.566,0],[0.13,0.547,0],[0.15,0.44,0],[0.205,0.46,0],[0.27,0.48,0],[0.235,0.42,0],[0.046,0.46,0],[-0.164,0.38,0],[-0.10,0.48,0],[0.36,0.285,10],[0.466,0.27,10],[0.55,0.265,10],[0.57,0.30,2],[0.67,0.31,2],[0.626,0.25,10],[0.55,0.20,10],[0.49,0.24,2],[0.80,-0.04,9],[0.32,-0.04,10],[0.36,-0.03,10],[0.48,-0.03,3],[0.53,-0.24,3],[0.235,-0.516,3],[0.277,-0.406,0],[-0.08,-0.50,0],[0.046,0.30,2],[0.15,0.24,3],[0.046,0.367,3],[0.09,0.30,5],[0.235,0.16,8],[0.32,0.077,10],[0.40,0.077,9],[0.466,-0.09,7],[0.214,-0.31,3],[0.09,-0.227,2],[-0.164,-0.42,7],[-0.10,-0.434,7],[-0.29,-0.20,3],[-0.353,-0.17,2],[-0.32,0.036,3],[-0.29,-0.033,5],[-0.20,0.133,3],[-0.17,0.19,2],[0.08,0.257,10],[0.40,0.25,2],[0.42,0.0,9],[-0.30,-0.25,10],[-0.25,-0.30,10],[-0.20,-0.20,9],[-0.15,-0.10,8],[-0.10,-0.05,9],[-0.05,0.05,8],[0.0,0.0,10],[0.05,0.10,9],[0.10,0.05,8],[0.15,0.15,9],[0.20,0.0,10],[0.25,0.10,8],[0.10,-0.10,9],[0.0,-0.15,10],[-0.05,-0.25,9],[-0.15,-0.30,8],[-0.20,-0.35,1],[-0.10,-0.35,5],[0.05,-0.30,6],[0.15,-0.20,10],[0.20,-0.10,6],[-0.05,0.15,3],[-0.12,0.05,5],[0.0,0.20,5],[0.10,0.20,6],[-0.25,-0.10,3],[-0.35,-0.28,10],[-0.28,-0.38,2],[0.18,0.25,6],[0.30,0.20,8],[0.12,-0.35,7],[0.25,-0.05,9],[-0.08,-0.42,7],[-0.40,-0.30,10],[-0.38,-0.22,2],[-0.36,-0.35,9],[-0.33,-0.20,10],[-0.31,-0.42,6],[-0.29,-0.30,9],[-0.27,-0.22,10],[-0.26,-0.40,7],[-0.24,-0.15,8],[-0.22,-0.28,10],[-0.20,-0.42,7],[-0.18,-0.22,9],[-0.16,-0.05,8],[-0.14,-0.38,7],[-0.12,-0.15,10],[-0.10,0.0,8],[-0.08,-0.28,9],[-0.06,-0.10,10],[-0.04,0.10,8],[-0.02,-0.20,9],[0.0,0.05,8],[0.02,-0.08,9],[0.04,0.18,8],[0.06,-0.18,9],[0.08,0.10,8],[0.10,-0.02,10],[0.12,0.15,8],[0.14,-0.08,9],[0.16,0.05,8],[0.18,-0.15,7],[0.22,0.08,8],[0.24,0.20,6],[0.28,0.0,9],[0.30,0.12,8],[-0.30,-0.12,5],[-0.42,-0.25,3],[-0.20,0.05,5],[0.05,-0.42,7],[-0.15,-0.45,7],[0.35,0.15,6]];
const p10Stars: Pt[] = [[-0.46,-0.49,5],[-0.11,0.44,0],[0.25,0.33,2],[-0.134,0.21,2],[-0.04,0.19,8],[0.0,0.11,6],[0.40,0.124,10],[0.61,-0.02,5],[0.17,0.055,6],[0.21,-0.006,7],[0.19,-0.06,7],[0.13,-0.13,8],[-0.10,0.008,10],[0.046,0.008,8],[0.07,-0.01,10],[-0.06,-0.06,7],[-0.04,-0.116,8],[0.0,-0.17,10],[-0.164,-0.157,7],[-0.248,-0.226,3],[-0.29,-0.254,10],[-0.31,-0.337,7],[-0.248,-0.365,2],[-0.20,-0.39,10],[-0.10,-0.254,5],[-0.08,-0.337,7],[0.0,-0.28,0],[0.025,-0.32,2],[0.0,-0.475,5],[-0.18,-0.31,6]];

const p11Dots: Pt[] = [[0.046,1.25,8],[-0.133,1.063,8],[-0.133,0.99,0],[-0.058,0.945,0],[-0.03,0.913,0],[-0.038,0.847,0],[-0.03,0.82,0],[-0.038,0.742,0],[0.117,0.826,0],[-0.53,0.826,9],[-0.467,0.73,9],[-0.31,0.676,7],[-0.375,0.637,9],[-0.28,0.632,10],[-0.225,0.747,3],[-0.196,0.61,5],[-0.18,0.60,6],[-0.59,0.447,2],[-0.425,0.466,9],[-0.35,0.479,9],[-0.34,0.51,3],[-0.25,0.466,2],[-0.154,0.518,10],[-0.07,0.584,8],[-0.05,0.57,7],[-0.11,0.484,0],[0.033,0.518,10],[0.096,0.53,9],[0.125,0.487,10],[-0.57,0.268,7],[-0.59,0.224,7],[-0.57,0.203,7],[-0.52,-0.066,7],[-0.467,0.11,7],[-0.383,0.013,7],[-0.28,-0.055,7],[-0.23,-0.042,7],[-0.363,0.176,7],[-0.288,0.15,3],[-0.26,0.137,3],[-0.216,0.168,3],[-0.154,0.308,10],[-0.32,0.353,10],[-0.383,0.353,9],[-0.237,0.303,2],[-0.07,0.221,2],[0.367,0.334,3],[0.39,0.295,3],[0.45,0.19,3],[0.49,0.255,7],[0.47,-0.06,10],[0.53,-0.095,10],[0.51,-0.232,10],[0.49,-0.23,10],[0.20,-0.218,6],[0.18,-0.258,2],[0.22,-0.25,1],[0.075,-0.153,6],[0.083,-0.126,8],[-0.133,-0.021,10],[-0.09,0.045,10],[0.43,0.005,10],[0.408,0.084,2],[0.158,0.242,3],[0.22,0.295,6],[0.025,0.347,2],[-0.30,0.30,8],[-0.25,0.25,3],[-0.20,0.20,9],[-0.15,0.15,10],[-0.10,0.20,8],[-0.05,0.10,10],[0.0,0.15,5],[0.05,0.20,6],[0.10,0.15,5],[0.15,0.10,6],[0.20,0.20,5],[0.25,0.10,8],[0.30,0.05,9],[0.0,0.05,10],[0.05,0.0,8],[0.10,0.05,10],[0.15,0.0,10],[0.20,-0.05,6],[0.25,-0.10,5],[0.30,-0.15,10],[0.35,-0.10,2],[0.10,-0.05,6],[-0.05,0.30,5],[0.05,0.30,3],[-0.12,0.10,4],[0.28,0.0,5],[0.33,-0.05,9],[-0.40,0.28,9],[-0.45,0.25,8],[-0.02,-0.05,7],[0.38,-0.18,3],[0.12,-0.10,7],[-0.18,0.05,2],[-0.32,0.25,9],[-0.28,0.38,8],[-0.26,0.20,3],[-0.23,0.32,9],[-0.20,0.12,3],[-0.18,0.28,10],[-0.16,0.38,8],[-0.14,0.22,10],[-0.12,0.05,9],[-0.10,0.32,8],[-0.08,0.18,10],[-0.06,0.05,9],[-0.04,0.25,8],[-0.02,0.12,10],[0.0,0.0,10],[0.02,0.22,5],[0.04,0.10,10],[0.06,-0.05,9],[0.08,0.25,6],[0.10,0.10,10],[0.12,0.0,6],[0.14,0.18,5],[0.16,0.05,10],[0.18,-0.10,6],[0.20,0.10,5],[0.22,-0.02,10],[0.24,0.05,6],[0.26,-0.15,5],[0.28,0.15,5],[0.30,-0.05,10],[0.32,-0.12,6],[0.34,0.0,8],[0.36,-0.22,10],[0.40,-0.10,10],[0.42,-0.20,9],[0.27,-0.20,5],[0.22,-0.15,2],[-0.35,0.40,9],[0.07,0.35,3],[0.15,-0.18,5]];
const p11Stars: Pt[] = [[0.088,0.96,0],[-0.44,0.379,9],[-0.225,0.392,3],[0.096,0.44,5],[0.24,0.42,7],[-0.196,0.274,3],[-0.104,0.313,2],[0.012,0.247,8],[-0.146,0.182,6],[-0.09,0.13,2],[-0.225,0.058,7],[-0.017,-0.034,5],[0.325,0.255,3],[0.40,0.22,2],[0.563,0.168,10],[-0.05,0.097,9],[0.025,0.084,10],[0.096,0.10,2],[0.096,0.005,0],[0.158,0.058,8],[0.20,0.005,6],[0.18,-0.055,6],[0.24,0.124,7],[0.30,-0.087,5],[0.346,-0.147,7],[0.39,-0.184,8],[0.358,-0.258,1],[0.30,-0.205,10],[0.38,-0.20,9]];

const p12Dots: Pt[] = [[-0.59,-0.06,2],[-0.577,-0.109,7],[-0.552,-0.08,7],[-0.52,0.186,7],[-0.462,0.0,7],[-0.396,0.105,7],[-0.38,0.056,7],[-0.32,0.144,7],[-0.36,-0.03,3],[-0.336,-0.215,3],[-0.37,-0.08,7],[-0.26,0.085,2],[-0.327,-0.35,9],[-0.312,-0.39,9],[-0.39,-0.39,9],[-0.41,-0.43,9],[-0.426,-0.468,9],[-0.396,-0.455,9],[-0.44,-0.507,9],[-0.417,-0.555,9],[-0.465,-0.691,9],[-0.53,-0.70,9],[-0.465,-0.80,9],[-0.327,-0.507,9],[-0.36,-0.42,8],[-0.05,-0.672,7],[-0.13,-0.697,7],[0.10,-0.604,1],[0.114,-0.532,1],[-0.11,0.28,2],[-0.156,0.23,2],[-0.14,0.196,2],[-0.20,0.173,2],[-0.08,0.186,2],[-0.02,0.196,7],[-0.036,0.138,3],[0.49,0.047,10],[0.52,-0.05,10],[0.475,-0.10,10],[0.475,-0.22,8],[0.43,-0.118,10],[0.414,-0.157,10],[0.325,-0.283,0],[0.264,-0.332,7],[0.174,-0.43,2],[0.20,-0.45,2],[0.144,-0.35,0],[0.234,-0.31,6],[0.144,-0.293,7],[0.28,0.163,10],[0.445,0.085,10],[0.13,0.20,9],[0.20,0.134,10],[0.414,0.017,3],[-0.096,-0.04,10],[-0.126,-0.10,10],[-0.15,-0.07,10],[-0.17,-0.30,10],[-0.162,-0.177,10],[-0.27,-0.138,3],[-0.297,-0.10,3],[-0.306,-0.177,2],[-0.246,-0.235,3],[-0.216,-0.215,5],[-0.186,-0.186,10],[-0.036,-0.196,8],[-0.07,-0.21,6],[0.04,-0.04,10],[0.108,-0.25,6],[0.204,-0.235,7],[0.174,-0.177,8],[0.318,-0.293,0],[-0.25,0.0,3],[-0.20,0.05,3],[-0.15,0.10,9],[-0.10,0.05,10],[-0.05,0.10,5],[0.0,0.05,6],[0.05,0.10,3],[0.10,0.05,8],[0.15,0.10,5],[0.20,0.05,8],[0.25,0.08,9],[0.30,0.02,2],[0.35,0.10,10],[0.40,0.05,10],[0.05,-0.05,5],[0.10,-0.10,6],[0.15,-0.05,8],[0.20,-0.12,8],[0.25,-0.05,3],[0.30,-0.10,9],[0.35,-0.05,2],[-0.05,-0.10,9],[0.0,-0.15,8],[0.05,-0.20,6],[-0.20,-0.10,3],[-0.22,-0.05,1],[-0.12,-0.15,10],[0.12,-0.20,9],[0.25,-0.20,8],[0.02,0.15,6],[-0.08,0.13,5],[0.18,0.0,5],[0.38,-0.02,1],[-0.28,-0.06,3],[-0.30,-0.10,3],[-0.27,0.05,3],[-0.24,-0.20,3],[-0.21,0.10,2],[-0.19,-0.05,10],[-0.17,-0.13,10],[-0.14,0.02,10],[-0.12,-0.22,3],[-0.10,-0.08,10],[-0.08,0.08,6],[-0.06,-0.15,10],[-0.04,0.0,10],[-0.02,-0.25,8],[0.0,-0.08,10],[0.02,0.08,5],[0.04,-0.15,8],[0.06,0.02,10],[0.08,-0.25,8],[0.10,0.12,5],[0.12,-0.05,6],[0.14,-0.18,8],[0.16,0.06,3],[0.18,-0.25,8],[0.20,-0.02,5],[0.22,0.12,9],[0.24,-0.15,6],[0.26,0.0,3],[0.28,-0.08,8],[0.30,0.08,5],[0.32,-0.20,8],[0.34,0.0,3],[0.36,-0.12,10],[0.38,0.06,10],[0.42,-0.05,10],[0.45,-0.15,10],[0.18,-0.32,8],[0.06,-0.32,7],[-0.03,-0.30,6],[0.12,0.18,9],[-0.15,0.15,2]];
const p12Stars: Pt[] = [[-0.44,-0.406,9],[0.078,-0.542,0],[0.09,-0.375,5],[0.22,-0.394,6],[0.31,-0.394,2],[0.288,-0.157,2],[0.535,-0.245,10],[-0.102,0.144,2],[-0.02,0.134,7],[0.174,0.177,10],[0.315,0.173,8],[0.29,0.115,7],[0.325,0.09,6],[0.355,0.047,5],[0.37,0.027,2],[0.264,0.017,3],[0.174,0.008,3],[0.144,-0.012,6],[0.108,-0.05,5],[0.20,-0.03,8],[0.294,-0.056,6],[0.144,0.047,5],[-0.162,0.05,5],[-0.05,0.056,2],[0.03,0.037,8],[0.01,-0.037,10],[-0.237,-0.06,6],[-0.23,-0.148,2],[-0.20,-0.167,5],[-0.066,-0.122,2],[-0.08,-0.192,6],[0.003,-0.20,8],[-0.066,-0.264,5],[-0.02,-0.254,2],[0.084,-0.128,0],[0.078,-0.177,2],[0.168,-0.115,6],[0.225,-0.095,10],[0.16,-0.212,6],[0.38,-0.16,2]];

const dotSets: Pt[][] = [p1Dots, p2Dots, p3Dots, p4Dots, p5Dots, p6Dots, p7Dots, p8Dots, p9Dots, p10Dots, p11Dots, p12Dots];
const starSets: Pt[][] = [p1Stars, p2Stars, p3Stars, p4Stars, p5Stars, p6Stars, p7Stars, p8Stars, p9Stars, p10Stars, p11Stars, p12Stars];

const xNames = ['RHip', 'RHip', 'LShoulder', 'RHip', 'LShoulder', 'LKnee', 'RHip', 'RWrist', 'Neck', 'RWrist', 'RFoot', 'RFoot'];
const yNames = ['LHip', 'Neck', 'Head', 'Head', 'LElbow', 'BMN', 'LElbow', 'LWrist', 'RHeel', 'LFoot', 'RHeel', 'RKnee'];

const xRanges = [[-0.91, 0.89], [-0.92, 0.9], [-0.77, 0.61], [-0.91, 0.91], [-0.6, 0.455], [-0.83, 0.275], [-0.9, 0.89], [-0.87, 0.925], [-0.87, 0.83], [-0.87, 0.89], [-0.875, 0.85], [-0.65, 0.6]];
const yRanges = [[-0.89, 0.88], [-0.93, 0.9], [-0.93, 0.465], [-1.15, 0.68], [-0.53, 0.53], [-0.32, 0.77], [-0.91, 0.92], [-0.88, 0.92], [-0.38, 1.334], [-0.9, 0.89], [-0.376, 1.334], [-0.885, 0.377]];

const halfTicks = [-0.5, 0, 0.5];
const halfLabels = ['-0.5', '0.0', '0.5'];
const twoTicks = [-0.5, 0];
const twoLabels = ['-0.5', '0.0'];
const head3Ticks = [-0.8, -0.6, -0.4, -0.2, 0, 0.2, 0.4];
const head3Labels = ['-0.8', '-0.6', '-0.4', '-0.2', '0.0', '0.2', '0.4'];
const head4Ticks = [-1, -0.5, 0, 0.5];
const head4Labels = ['-1.0', '-0.5', '0.0', '0.5'];
const elbowTicks = [-0.4, -0.2, 0, 0.2, 0.4];
const elbowLabels = ['-0.4', '-0.2', '0.0', '0.2', '0.4'];
const bmnTicks = [-0.2, 0, 0.2, 0.4, 0.6];
const bmnLabels = ['-0.2', '0.0', '0.2', '0.4', '0.6'];
const heelTicks = [-0.25, 0, 0.25, 0.5, 0.75, 1, 1.25];
const heelLabels = ['-0.2', '0.0', '0.2', '0.5', '0.8', '1.0', '1.2'];
const kneeTicks = [-0.8, -0.6, -0.4, -0.2, 0, 0.2];
const kneeLabels = ['-0.8', '-0.6', '-0.4', '-0.2', '0.0', '0.2'];

const xTickSets = [halfTicks, halfTicks, halfTicks, halfTicks, twoTicks, twoTicks, halfTicks, halfTicks, halfTicks, halfTicks, halfTicks, halfTicks];
const xLabelSets = [halfLabels, halfLabels, halfLabels, halfLabels, twoLabels, twoLabels, halfLabels, halfLabels, halfLabels, halfLabels, halfLabels, halfLabels];
const yTickSets = [halfTicks, halfTicks, head3Ticks, head4Ticks, elbowTicks, bmnTicks, halfTicks, halfTicks, heelTicks, halfTicks, heelTicks, kneeTicks];
const yLabelSets = [halfLabels, halfLabels, head3Labels, head4Labels, elbowLabels, bmnLabels, halfLabels, halfLabels, heelLabels, halfLabels, heelLabels, kneeLabels];

const FONT = "'Liberation Serif', 'Times New Roman', serif";
const COL_LEFT = [56, 324, 592];
const ROW_TOP = [60, 335, 610, 885];
const BOX = 216;
const STAR = 'path://M0,-100L22.45,-30.9L95.1,-30.9L36.3,11.8L58.8,80.9L0,38.2L-58.8,80.9L-36.3,11.8L-95.1,-30.9L-22.45,-30.9Z';

function rainbow(c: number): string {
  const t = c / 10;
  const cl = (v: number) => Math.min(1, Math.max(0, v));
  const r = cl(Math.abs(2 * t - 0.5));
  const g = cl(Math.sin(Math.PI * t));
  const b = cl(Math.cos((Math.PI * t) / 2));
  const h = (v: number) => Math.round(v * 255).toString(16).padStart(2, '0');
  return '#' + h(r) + h(g) + h(b);
}

function fmt(ticks: number[], labels: string[]) {
  return (v: number) => {
    const k = ticks.findIndex((t) => Math.abs(t - v) < 1e-6);
    return k >= 0 ? labels[k] : '';
  };
}

function starPoints(cx: number, cy: number, R: number): number[][] {
  const pts: number[][] = [];
  for (let k = 0; k < 10; k++) {
    const rad = k % 2 === 0 ? R : R * 0.382;
    const a = -Math.PI / 2 + (k * Math.PI) / 5;
    pts.push([cx + rad * Math.cos(a), cy + rad * Math.sin(a)]);
  }
  return pts;
}

function buildOption() {
  const grid: any[] = [];
  const xAxis: any[] = [];
  const yAxis: any[] = [];
  const series: any[] = [];
  const nameStyle = {
    fontSize: 15, fontFamily: FONT, color: '#000', fontWeight: 'normal',
    textBorderWidth: 0, textBorderColor: 'transparent', textShadowBlur: 0, textShadowColor: 'transparent',
  };
  const labelStyle = { fontSize: 15, fontFamily: FONT, color: '#000', fontWeight: 'normal', margin: 7 };
  for (let i = 0; i < 12; i++) {
    grid.push({
      left: COL_LEFT[i % 3], top: ROW_TOP[Math.floor(i / 3)], width: BOX, height: BOX,
      show: true, borderColor: '#000', borderWidth: 1, backgroundColor: 'rgba(0,0,0,0)',
    });
    xAxis.push({
      gridIndex: i, type: 'value', min: xRanges[i][0], max: xRanges[i][1],
      axisLine: { show: false, onZero: false },
      splitLine: { show: false },
      axisTick: { show: true, length: 4, lineStyle: { color: '#000', width: 1 }, customValues: xTickSets[i] },
      axisLabel: { ...labelStyle, customValues: xTickSets[i], formatter: fmt(xTickSets[i], xLabelSets[i]) },
      name: xNames[i], nameLocation: 'middle', nameGap: 23, nameTextStyle: nameStyle,
    });
    yAxis.push({
      gridIndex: i, type: 'value', min: yRanges[i][0], max: yRanges[i][1],
      axisLine: { show: false, onZero: false },
      splitLine: { show: false },
      axisTick: { show: true, length: 4, lineStyle: { color: '#000', width: 1 }, customValues: yTickSets[i] },
      axisLabel: { ...labelStyle, customValues: yTickSets[i], formatter: fmt(yTickSets[i], yLabelSets[i]) },
      name: yNames[i], nameLocation: 'middle', nameGap: 35, nameRotate: 90, nameTextStyle: nameStyle,
    });
    series.push({
      type: 'scatter', name: 'SkeletonDiffusion', xAxisIndex: i, yAxisIndex: i,
      symbol: 'circle', symbolSize: 5, z: 2, silent: true,
      itemStyle: { opacity: 0.92 },
      data: dotSets[i].map((p) => ({ value: [p[0], p[1]], itemStyle: { color: rainbow(p[2]) } })),
    });
    series.push({
      type: 'scatter', name: 'GT', xAxisIndex: i, yAxisIndex: i,
      symbol: STAR, symbolSize: 10.5, symbolKeepAspect: true, z: 3, silent: true,
      itemStyle: { borderColor: '#000', borderWidth: 1.1 },
      data: starSets[i].map((p) => ({ value: [p[0], p[1]], itemStyle: { color: rainbow(p[2]) } })),
    });
  }
  const graphic: any[] = [
    { type: 'text', x: 433, y: 38, style: { text: 'Embeddings in latent space', fontSize: 19, fontFamily: FONT, fill: '#000', align: 'center', verticalAlign: 'middle' } },
    { type: 'rect', shape: { x: 647, y: 7, width: 163, height: 46, r: 3 }, style: { fill: 'rgba(255,255,255,0.8)', stroke: '#cccccc', lineWidth: 1 }, z: 10 },
    { type: 'circle', shape: { cx: 668, cy: 20, r: 2.4 }, style: { fill: rainbow(0) }, z: 11 },
    { type: 'polygon', shape: { points: starPoints(668, 42, 5.5) }, style: { fill: rainbow(0), stroke: '#000', lineWidth: 1.1 }, z: 11 },
    { type: 'text', x: 695, y: 19, style: { text: 'SkeletonDiffusion', fontSize: 15, fontFamily: FONT, fill: '#000', align: 'left', verticalAlign: 'middle' }, z: 11 },
    { type: 'text', x: 695, y: 41, style: { text: 'GT', fontSize: 15, fontFamily: FONT, fill: '#000', align: 'left', verticalAlign: 'middle' }, z: 11 },
  ];
  return { animation: false, backgroundColor: '#fff', grid, xAxis, yAxis, series, graphic };
}

export default function App() {
  const ref = useRef<HTMLDivElement>(null);
  useEffect(() => {
    if (!ref.current) return;
    const chart = echarts.init(ref.current, undefined, { renderer: 'svg' });
    chart.setOption(buildOption() as any);
    return () => chart.dispose();
  }, []);
  return <div ref={ref} style={{ position: 'absolute', left: 0, top: 0, width: 818, height: 1148 }} />;
}
